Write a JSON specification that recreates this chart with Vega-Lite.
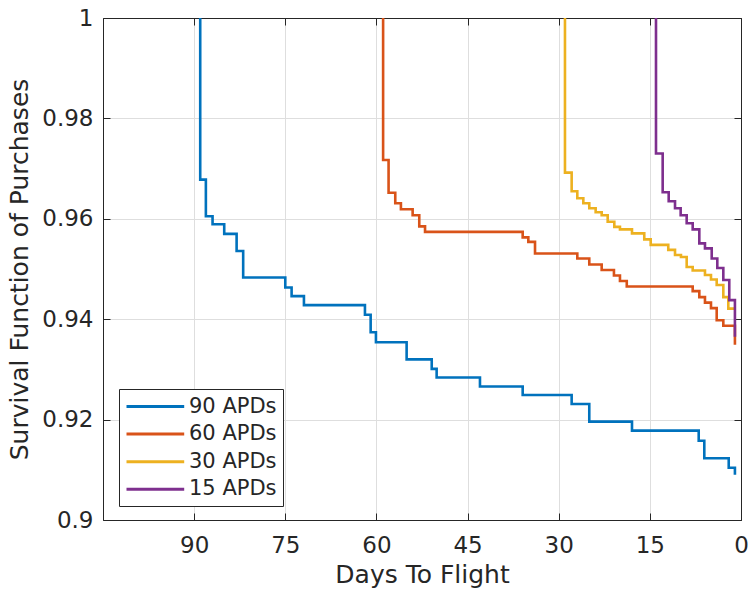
{
  "$schema": "https://vega.github.io/schema/vega-lite/v6.json",
  "autosize": {"type": "none"},
  "padding": {"left": 103, "top": 18, "right": 8, "bottom": 71},
  "width": 638,
  "height": 502,
  "background": "white",
  "config": {
    "view": {"stroke": "#262626", "strokeWidth": 1},
    "font": "DejaVu Sans",
    "axis": {
      "labelFont": "DejaVu Sans",
      "titleFont": "DejaVu Sans",
      "labelColor": "#262626",
      "titleColor": "#262626",
      "domainColor": "#262626",
      "tickColor": "#262626",
      "titleFontWeight": "normal",
      "gridColor": "#dedede",
      "gridOpacity": 1
    }
  },
  "data": {
    "values": [
      {"s": "90 APDs", "x": 89.0, "y": 1.0},
      {"s": "90 APDs", "x": 89.0, "y": 0.9678},
      {"s": "90 APDs", "x": 88.07, "y": 0.9605},
      {"s": "90 APDs", "x": 86.97, "y": 0.9589},
      {"s": "90 APDs", "x": 85.05, "y": 0.957},
      {"s": "90 APDs", "x": 83.01, "y": 0.9536},
      {"s": "90 APDs", "x": 81.93, "y": 0.9483},
      {"s": "90 APDs", "x": 75.0, "y": 0.9463},
      {"s": "90 APDs", "x": 73.96, "y": 0.9446},
      {"s": "90 APDs", "x": 71.93, "y": 0.9428},
      {"s": "90 APDs", "x": 61.89, "y": 0.9409},
      {"s": "90 APDs", "x": 60.95, "y": 0.9374},
      {"s": "90 APDs", "x": 60.08, "y": 0.9354},
      {"s": "90 APDs", "x": 55.03, "y": 0.932},
      {"s": "90 APDs", "x": 50.9, "y": 0.9301},
      {"s": "90 APDs", "x": 50.09, "y": 0.9284},
      {"s": "90 APDs", "x": 42.96, "y": 0.9266},
      {"s": "90 APDs", "x": 35.93, "y": 0.9249},
      {"s": "90 APDs", "x": 27.87, "y": 0.9231},
      {"s": "90 APDs", "x": 24.97, "y": 0.9196},
      {"s": "90 APDs", "x": 17.94, "y": 0.9178},
      {"s": "90 APDs", "x": 6.96, "y": 0.9158},
      {"s": "90 APDs", "x": 6.04, "y": 0.9123},
      {"s": "90 APDs", "x": 2.02, "y": 0.9104},
      {"s": "90 APDs", "x": 1.0, "y": 0.909},
      {"s": "60 APDs", "x": 58.9, "y": 1.0},
      {"s": "60 APDs", "x": 58.9, "y": 0.9717},
      {"s": "60 APDs", "x": 58.0, "y": 0.9652},
      {"s": "60 APDs", "x": 56.9, "y": 0.9631},
      {"s": "60 APDs", "x": 55.97, "y": 0.9619},
      {"s": "60 APDs", "x": 54.04, "y": 0.9607},
      {"s": "60 APDs", "x": 52.95, "y": 0.9585},
      {"s": "60 APDs", "x": 52.0, "y": 0.9574},
      {"s": "60 APDs", "x": 35.93, "y": 0.9563},
      {"s": "60 APDs", "x": 35.0, "y": 0.9554},
      {"s": "60 APDs", "x": 33.9, "y": 0.9531},
      {"s": "60 APDs", "x": 26.94, "y": 0.9521},
      {"s": "60 APDs", "x": 24.97, "y": 0.9509},
      {"s": "60 APDs", "x": 22.93, "y": 0.9498},
      {"s": "60 APDs", "x": 20.91, "y": 0.9487},
      {"s": "60 APDs", "x": 19.92, "y": 0.9476},
      {"s": "60 APDs", "x": 18.8, "y": 0.9465},
      {"s": "60 APDs", "x": 7.95, "y": 0.9456},
      {"s": "60 APDs", "x": 6.86, "y": 0.9444},
      {"s": "60 APDs", "x": 5.93, "y": 0.9433},
      {"s": "60 APDs", "x": 4.94, "y": 0.9422},
      {"s": "60 APDs", "x": 4.0, "y": 0.9398},
      {"s": "60 APDs", "x": 2.91, "y": 0.9387},
      {"s": "60 APDs", "x": 1.0, "y": 0.9349},
      {"s": "30 APDs", "x": 28.97, "y": 1.0},
      {"s": "30 APDs", "x": 28.97, "y": 0.9692},
      {"s": "30 APDs", "x": 27.87, "y": 0.9655},
      {"s": "30 APDs", "x": 26.94, "y": 0.9641},
      {"s": "30 APDs", "x": 25.95, "y": 0.9631},
      {"s": "30 APDs", "x": 24.97, "y": 0.9621},
      {"s": "30 APDs", "x": 23.92, "y": 0.9613},
      {"s": "30 APDs", "x": 22.93, "y": 0.9607},
      {"s": "30 APDs", "x": 21.94, "y": 0.9594},
      {"s": "30 APDs", "x": 20.85, "y": 0.9584},
      {"s": "30 APDs", "x": 19.92, "y": 0.9579},
      {"s": "30 APDs", "x": 17.94, "y": 0.9571},
      {"s": "30 APDs", "x": 15.92, "y": 0.9559},
      {"s": "30 APDs", "x": 14.86, "y": 0.9548},
      {"s": "30 APDs", "x": 11.97, "y": 0.9538},
      {"s": "30 APDs", "x": 10.86, "y": 0.9528},
      {"s": "30 APDs", "x": 9.88, "y": 0.9524},
      {"s": "30 APDs", "x": 8.94, "y": 0.9504},
      {"s": "30 APDs", "x": 7.95, "y": 0.9497},
      {"s": "30 APDs", "x": 5.93, "y": 0.9488},
      {"s": "30 APDs", "x": 4.94, "y": 0.9479},
      {"s": "30 APDs", "x": 4.0, "y": 0.9468},
      {"s": "30 APDs", "x": 2.91, "y": 0.9444},
      {"s": "30 APDs", "x": 2.09, "y": 0.9421},
      {"s": "30 APDs", "x": 1.0, "y": 0.9421},
      {"s": "15 APDs", "x": 13.99, "y": 1.0},
      {"s": "15 APDs", "x": 13.99, "y": 0.973},
      {"s": "15 APDs", "x": 12.89, "y": 0.9653},
      {"s": "15 APDs", "x": 11.9, "y": 0.9635},
      {"s": "15 APDs", "x": 10.86, "y": 0.9621},
      {"s": "15 APDs", "x": 9.93, "y": 0.9607},
      {"s": "15 APDs", "x": 8.94, "y": 0.9591},
      {"s": "15 APDs", "x": 7.95, "y": 0.9579},
      {"s": "15 APDs", "x": 6.86, "y": 0.9551},
      {"s": "15 APDs", "x": 5.93, "y": 0.9541},
      {"s": "15 APDs", "x": 4.82, "y": 0.9521},
      {"s": "15 APDs", "x": 3.9, "y": 0.9502},
      {"s": "15 APDs", "x": 2.91, "y": 0.9478},
      {"s": "15 APDs", "x": 1.93, "y": 0.9438},
      {"s": "15 APDs", "x": 1.0, "y": 0.9365}
    ]
  },
  "resolve": {"axis": {"x": "independent", "y": "independent"}},
  "layer": [
    {
      "mark": {"type": "line", "interpolate": "step-after", "strokeWidth": 2.6, "clip": true},
      "encoding": {
        "x": {
          "field": "x", "type": "quantitative",
          "scale": {"domain": [0, 105], "reverse": true, "nice": false, "zero": false},
          "axis": {
            "orient": "bottom", "values": [0, 15, 30, 45, 60, 75, 90],
            "title": "Days To Flight", "grid": true,
            "tickSize": -7, "labelPadding": 21, "labelFontSize": 23,
            "titleFontSize": 25, "titlePadding": 5, "labelFlush": false, "labelOverlap": false
          }
        },
        "y": {
          "field": "y", "type": "quantitative",
          "scale": {"domain": [0.9, 1.0], "nice": false, "zero": false},
          "axis": {
            "orient": "left", "values": [0.9, 0.92, 0.94, 0.96, 0.98, 1.0], "format": "~g",
            "title": "Survival Function of Purchases", "grid": true,
            "tickSize": -7, "labelPadding": 17, "labelFontSize": 23,
            "titleFontSize": 25, "titlePadding": 9, "labelFlush": false, "labelOverlap": false
          }
        },
        "color": {
          "field": "s", "type": "nominal",
          "scale": {"domain": ["90 APDs", "60 APDs", "30 APDs", "15 APDs"], "range": ["#0072BD", "#D95319", "#EDB120", "#7E2F8E"]},
          "legend": {
            "title": null, "orient": "none", "legendX": 16, "legendY": 371,
            "direction": "vertical",
            "symbolType": "M-1,0H4.77", "symbolSize": 400, "symbolStrokeWidth": 3,
            "labelFont": "DejaVu Sans", "labelFontSize": 21, "labelColor": "#262626",
            "labelOffset": 41, "rowPadding": 5.6, "padding": 6,
            "strokeColor": "#262626", "fillColor": "white", "cornerRadius": 0
          }
        },
        "order": {"field": "x", "sort": "descending"}
      }
    },
    {
      "mark": {"type": "point", "opacity": 0},
      "encoding": {
        "x": {
          "field": "x", "type": "quantitative",
          "scale": {"domain": [0, 105], "reverse": true, "nice": false, "zero": false},
          "axis": {"orient": "top", "values": [0, 15, 30, 45, 60, 75, 90], "labels": false, "title": null, "grid": false, "tickSize": -7}
        },
        "y": {
          "field": "y", "type": "quantitative",
          "scale": {"domain": [0.9, 1.0], "nice": false, "zero": false},
          "axis": {"orient": "right", "values": [0.9, 0.92, 0.94, 0.96, 0.98, 1.0], "labels": false, "title": null, "grid": false, "tickSize": -7}
        }
      }
    }
  ]
}
